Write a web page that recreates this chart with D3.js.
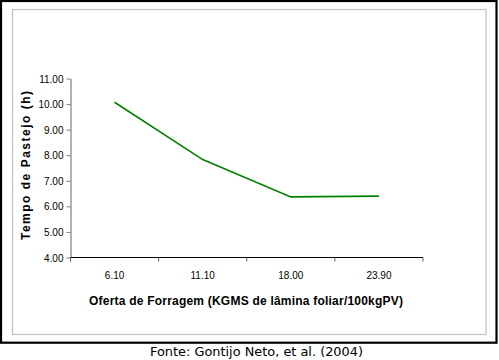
<!DOCTYPE html>
<html><head><meta charset="utf-8">
<script src="https://cdn.jsdelivr.net/npm/d3@7"></script>
<style>body{margin:0;background:#fff}svg{display:block}</style>
</head><body>
<script>
const categories = ["6.10", "11.10", "18.00", "23.90"];
const values = [10.07, 7.83, 6.37, 6.40];
const yTicks = [4, 5, 6, 7, 8, 9, 10, 11];
const yTitle = "Tempo de Pastejo (h)";
const xTitle = "Oferta de Forragem (KGMS de lâmina foliar/100kgPV)";
const caption = "Fonte: Gontijo Neto, et al. (2004)";

const W = 499, H = 360;
const svg = d3.select("body").append("svg").attr("width", W).attr("height", H);

// frames
svg.append("rect").attr("x", 1).attr("y", 1).attr("width", 495.5).attr("height", 341.7)
  .attr("fill", "#fff").attr("stroke", "#000").attr("stroke-width", 2.2);
svg.append("rect").attr("x", 12.5).attr("y", 9.5).attr("width", 473.5).attr("height", 325)
  .attr("fill", "#fff").attr("stroke", "#c0c0c0").attr("stroke-width", 1.2);

const x = d3.scaleBand().domain(categories).range([70.5, 423]).padding(0);
const y = d3.scaleLinear().domain([4, 11]).range([257.5, 78.5]);

// y axis
const gy = svg.append("g").attr("transform", "translate(70.5,0)")
  .call(d3.axisLeft(y).tickValues(yTicks).tickFormat(d3.format(".2f")).tickSize(4).tickSizeOuter(0));
gy.select(".domain").attr("stroke", "#808080").attr("stroke-width", 1.2);
gy.selectAll(".tick line").attr("stroke", "#808080");
gy.selectAll(".tick text").attr("font-family", "Liberation Sans, Arial, sans-serif")
  .attr("font-size", 10).attr("fill", "#000").attr("x", -7).attr("dy", "0.35em");

// x axis (ticks at category boundaries)
const gx = svg.append("g").attr("transform", "translate(0,257.5)");
gx.append("line").attr("x1", x.range()[0]).attr("x2", x.range()[1]).attr("stroke", "#000").attr("stroke-width", 1.2);
const bounds = categories.map(c => x(c)).concat([x.range()[1]]);
gx.selectAll("line.tk").data(bounds).enter().append("line").attr("class", "tk")
  .attr("x1", d => d).attr("x2", d => d).attr("y1", 0).attr("y2", 4).attr("stroke", "#606060");
gx.selectAll("text").data(categories).enter().append("text")
  .attr("x", d => x(d) + x.bandwidth() / 2).attr("y", 21).attr("text-anchor", "middle")
  .attr("font-family", "Liberation Sans, Arial, sans-serif").attr("font-size", 10).text(d => d);

// line
const line = d3.line().x((d, i) => x(categories[i]) + x.bandwidth() / 2).y(d => y(d));
svg.append("path").datum(values).attr("d", line).attr("fill", "none")
  .attr("stroke", "#008000").attr("stroke-width", 1.6);

// titles
svg.append("text").attr("transform", "translate(30,165.5) rotate(-90)").attr("text-anchor", "middle")
  .attr("font-family", "Liberation Sans, Arial, sans-serif").attr("font-weight", "bold").attr("font-size", 12)
  .attr("textLength", 149).attr("lengthAdjust", "spacing").text(yTitle);
svg.append("text").attr("x", 246).attr("y", 305).attr("text-anchor", "middle")
  .attr("font-family", "Liberation Sans, Arial, sans-serif").attr("font-weight", "bold").attr("font-size", 12)
  .attr("textLength", 314).attr("lengthAdjust", "spacing").text(xTitle);
svg.append("text").attr("x", 256.5).attr("y", 356).attr("text-anchor", "middle")
  .attr("font-family", "DejaVu Sans, Verdana, sans-serif").attr("font-size", 11.5)
  .attr("textLength", 213).attr("lengthAdjust", "spacingAndGlyphs").text(caption);
</script>
</body></html>
